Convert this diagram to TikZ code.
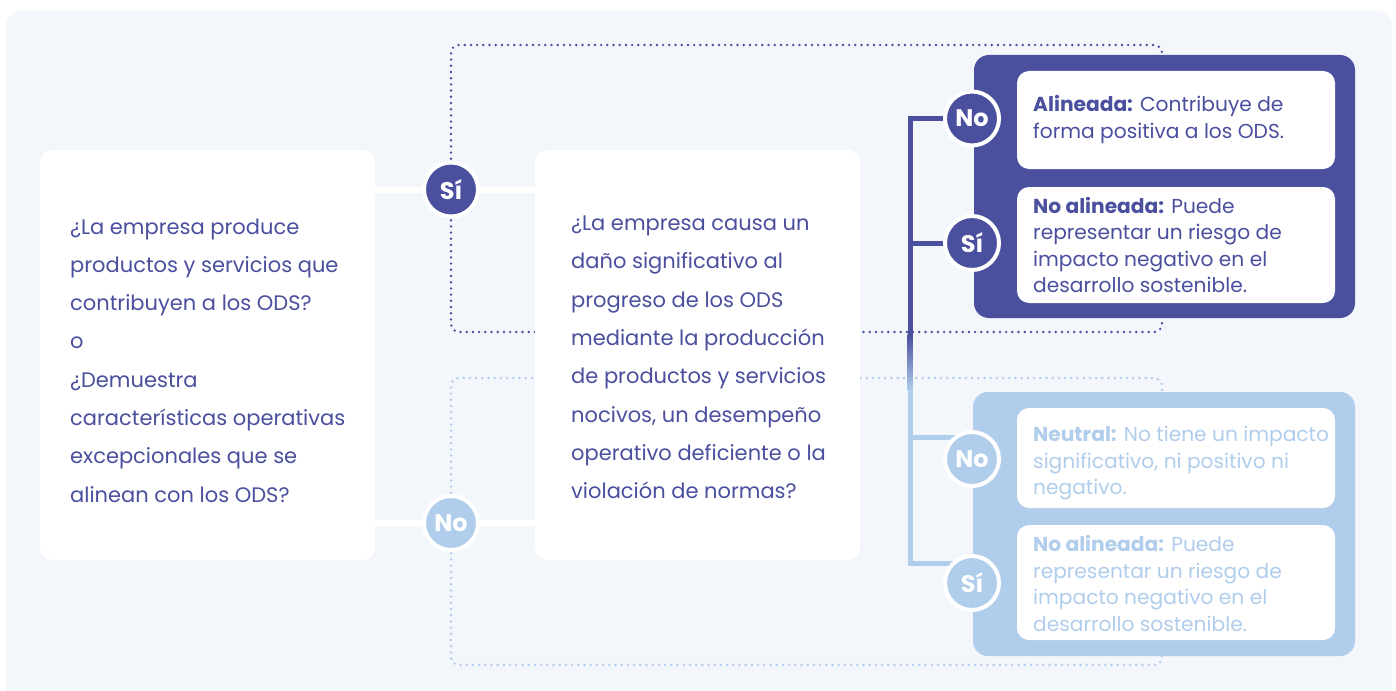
\documentclass[tikz,border=0pt]{standalone}
\usepackage{fontspec}
\setmainfont{Poppins}
\definecolor{ink}{HTML}{4A4F9E}
\definecolor{sky}{HTML}{B0CDEC}
\definecolor{panel}{HTML}{F3F6FB}
\tikzset{
  qbox/.style={fill=white, rounded corners=12pt},
  outbox/.style={rounded corners=15pt},
  inbox/.style={fill=white, rounded corners=12pt},
  badge/.style={circle, draw=white, line width=4pt, minimum size=54pt, inner sep=0pt,
     text=white, font=\fontsize{24}{24}\selectfont\bfseries},
  conn/.style={white, line width=6pt},
  dots/.style={line width=2.7pt, line cap=round, dash pattern=on 0pt off 6.2pt, rounded corners=8pt},
  qtext/.style={anchor=base west, align=left, inner sep=0pt, text=ink,
     font=\fontsize{21}{38.3}\selectfont},
  rtext/.style={anchor=base west, align=left, inner sep=0pt,
     font=\fontsize{20.2}{26.5}\selectfont},
  trunk/.style={line width=5pt},
}
\begin{document}
\begin{tikzpicture}[x=1pt,y=-1pt]
\useasboundingbox (0,0) rectangle (1396,690);
\fill[white] (0,0) rectangle (1396,690);
\begin{scope}
\clip (0,0) rectangle (1396,690);
\fill[panel, rounded corners=15pt] (6,11) rectangle (1392,705);
\end{scope}

% badges positions
\coordinate (siA) at (451,189.5);
\coordinate (noA) at (451,523);

% dotted paths
\draw[dots, ink] (451,165) -- (451,45) -- (1162,45) -- (1162,56);
\draw[dots, ink] (451,214) -- (451,332) -- (1162,332) -- (1162,316);
\draw[dots, sky] (451,499) -- (451,378) -- (1162,378) -- (1162,394);
\draw[dots, sky] (451,547) -- (451,665) -- (1162,665) -- (1162,654);

% question boxes
\fill[qbox] (40,150) rectangle (375,560);
\node[inner sep=0pt, minimum width=335pt, minimum height=410pt] (q1) at (207.5,355) {};
\fill[qbox] (535,150) rectangle (860,560);
\node[inner sep=0pt, minimum width=325pt, minimum height=410pt] (q2) at (697.5,355) {};

% connectors
\draw[conn] (q1.east |- siA) -- (siA) -- (q2.west |- siA);
\draw[conn] (q1.east |- noA) -- (noA) -- (q2.west |- noA);
\node[badge, fill=ink] (si1) at (siA) {Sí};
\node[badge, fill=sky] (no1) at (noA) {No};

\node[qtext] (t1) at (70,502.1) {¿La empresa produce\\productos y servicios que\\contribuyen a los ODS?\\o\\¿Demuestra\\características operativas\\excepcionales que se\\alinean con los ODS?};
\node[qtext] (t2) at (571,498.6) {¿La empresa causa un\\daño significativo al\\progreso de los ODS\\mediante la producción\\de productos y servicios\\nocivos, un desempeño\\operativo deficiente o la\\violación de normas?};

% outcome boxes
\fill[ink, outbox] (974,55) rectangle (1355,318);
\fill[inbox] (1017,71) rectangle (1335,169);
\fill[inbox] (1017,187) rectangle (1335,303);
\fill[sky, outbox] (973,392) rectangle (1355,656);
\fill[inbox] (1017,408) rectangle (1335,508);
\fill[inbox] (1017,525) rectangle (1335,640);

\node[rtext, text=ink] (r1) at (1033,138.2) {\textbf{Alineada:} Contribuye de\\forma positiva a los ODS.};
\node[rtext, text=ink] (r2) at (1033,292.8) {\textbf{No alineada:} Puede\\representar un riesgo de\\impacto negativo en el\\desarrollo sostenible.};
\node[rtext, text=sky] (r3) at (1033,494.7) {\textbf{Neutral:} No tiene un impacto\\significativo, ni positivo ni\\negativo.};
\node[rtext, text=sky] (r4) at (1033,631.2) {\textbf{No alineada:} Puede\\representar un riesgo de\\impacto negativo en el\\desarrollo sostenible.};

% tree
\coordinate (j1) at (910,118.5);
\coordinate (j2) at (910,243);
\coordinate (j3) at (910,437);
\coordinate (j4) at (910,563);
\fill[ink] (907.5,116) rectangle (912.5,335);
\shade[top color=ink, bottom color=sky] (907.5,334.5) rectangle (912.5,390.5);
\fill[sky] (907.5,390) rectangle (912.5,565.5);
\draw[trunk, ink] (j1) -- (972,118.5);
\draw[trunk, ink] (j2) -- (972,243);
\draw[trunk, sky] (j3) -- (965,437);
\draw[trunk, sky] (j4) -- (965,563);
\node[badge, fill=ink] (no2) at (972,118.5) {No};
\node[badge, fill=ink] (si2) at (972,243) {Sí};
\node[badge, fill=sky] (no3) at (972,459) {No};
\node[badge, fill=sky] (si3) at (972,583) {Sí};
\end{tikzpicture}
\end{document}
